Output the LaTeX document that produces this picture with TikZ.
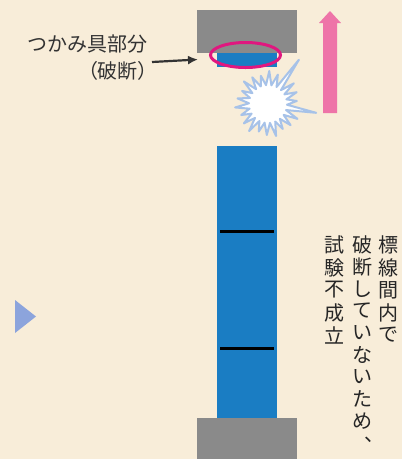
\documentclass[tikz,border=0pt]{standalone}
\usepackage{fontspec}
\setmainfont{Noto Sans CJK JP}
\usetikzlibrary{arrows.meta,positioning}
\definecolor{paper}{HTML}{F8EDD9}
\definecolor{clamp}{HTML}{8A8A8A}
\definecolor{piece}{HTML}{1A7DC3}
\definecolor{ring}{HTML}{E0177F}
\definecolor{pull}{HTML}{EE74A8}
\definecolor{flash}{HTML}{A7C2E8}
\definecolor{cue}{HTML}{8CA4DC}
\definecolor{ink}{HTML}{333333}

\tikzset{
  jtext/.style={inner sep=0pt, text=ink, font=\fontsize{20}{24}\selectfont},
  vchar/.style={inner sep=0pt, text=black!85, font=\fontsize{20}{20}\selectfont},
  gauge/.style={line width=3pt, black},
  pointer/.style={ink, line width=2.2pt, -{Latex[length=10pt,width=9pt]}},
  burst/.style={draw=flash, fill=white, line width=2pt, line join=round},
}

\begin{document}
\begin{tikzpicture}[x=1pt,y=1pt,yscale=-1,xscale=1]
%paper
\fill[paper] (0,0) rectangle (402,459);
\useasboundingbox (0,0) rectangle (402,459);

%Grips
\fill[clamp] (197,10) rectangle (297,53);
\fill[clamp] (197,418) rectangle (297,459);

%Specimen (broken in the upper grip)
\fill[piece] (217,53) rectangle (277,67);
\fill[piece] (217,146) rectangle (277,418);

%Gauge marks
\draw[gauge] (220,231) -- (274,231);
\draw[gauge] (220,348) -- (274,348);

%Ellipse round the break
\draw[ring, line width=3pt] (245.5,55) ellipse [x radius=35, y radius=12.5];

%Pulling direction
\fill[pull] (323,113) -- (323,23) -- (319,23) -- (330,11) -- (341,23) -- (337,23) -- (337,113) -- cycle;

%Burst
\coordinate (boom) at (268,104);
\begin{scope}[shift={(boom)}]
\draw[burst] (-6:29)
  \foreach \k in {0,...,21}
  { -- ({-6-\k*360/22}:{29+2*mod(\k,3)+(\k==3)*25+(\k==21)*20})
    -- ({-6-\k*360/22-8.18}:19) } -- cycle;
\end{scope}

%Triangle
\fill[cue] (15,300) -- (36,316.5) -- (15,333) -- cycle;

% Text Node
\node[jtext, anchor=east] (gripA) at (148,44) {つかみ具部分};
% Text Node
\node[jtext, anchor=east] (gripB) at (148,71) {\addfontfeature{RawFeature=+palt}（破断）};

%Arrow to the grip
\coordinate (tail) at (152,62);
\coordinate (tip) at (198,59.5);
\draw[pointer] (tail) -- (tip);

%Vertical text
\foreach \c [count=\n from 0] in {標,線,間,内,で}
  \node[vchar] (colA-\n) at (388,{245+22.5*\n}) {\c};
\foreach \c [count=\n from 0] in {破,断,し,て,い,な,い,た,め}
  \node[vchar] (colB-\n) at (362,{245+22*\n}) {\c};
\node[vchar, anchor=base west] (comma) at (364,441) {\smash{\makebox[6pt][l]{、}}};
\foreach \c [count=\n from 0] in {試,験,不,成,立}
  \node[vchar] (colC-\n) at (334,{245+22.5*\n}) {\c};

\end{tikzpicture}
\end{document}
